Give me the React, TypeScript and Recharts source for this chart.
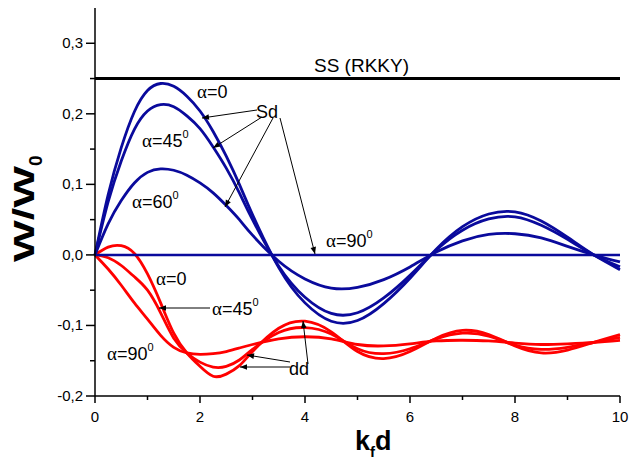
import { LineChart, Line, XAxis, YAxis, ReferenceLine } from 'recharts'

// k_f d sampling (finer near the origin where the curves bend fastest)
const kfd = [0, 0.25, 0.5, 0.75, 1, 1.25, 1.5, 1.75, 2, 2.25, 2.5, 2.75, 3, 3.5, 4, 4.5, 5, 5.5, 6, 6.5, 7, 7.5, 8, 8.5, 9, 9.5, 10]

// Sd curves (blue)
const sdAlpha0 = [0, 0.085, 0.152, 0.203, 0.233, 0.243, 0.239, 0.225, 0.204, 0.175, 0.14, 0.1, 0.057, -0.018, -0.068, -0.094, -0.093, -0.069, -0.033, 0.008, 0.04, 0.058, 0.061, 0.048, 0.025, 0, -0.021]
const sdAlpha45 = [0, 0.075, 0.133, 0.178, 0.204, 0.213, 0.21, 0.197, 0.179, 0.153, 0.123, 0.088, 0.05, -0.016, -0.06, -0.083, -0.082, -0.061, -0.029, 0.007, 0.035, 0.051, 0.054, 0.042, 0.022, 0, -0.017]
const sdAlpha60 = [0, 0.044, 0.077, 0.102, 0.117, 0.122, 0.12, 0.113, 0.102, 0.088, 0.07, 0.05, 0.028, -0.009, -0.034, -0.047, -0.046, -0.035, -0.017, 0.004, 0.02, 0.029, 0.03, 0.024, 0.012, 0, -0.01]
const sdAlpha90 = [0, 0, 0, 0, 0, 0, 0, 0, 0, 0, 0, 0, 0, 0, 0, 0, 0, 0, 0, 0, 0, 0, 0, 0, 0, 0, 0]

// dd curves (red)
const ddAlpha0 = [0, 0.011, 0.013, 0.002, -0.027, -0.068, -0.111, -0.139, -0.158, -0.172, -0.169, -0.157, -0.137, -0.104, -0.094, -0.109, -0.137, -0.147, -0.137, -0.118, -0.107, -0.113, -0.129, -0.139, -0.135, -0.124, -0.113]
const ddAlpha45 = [0, -0.004, -0.015, -0.031, -0.05, -0.082, -0.118, -0.139, -0.152, -0.159, -0.158, -0.149, -0.134, -0.11, -0.103, -0.112, -0.133, -0.14, -0.133, -0.119, -0.111, -0.115, -0.128, -0.134, -0.131, -0.124, -0.117]
const ddAlpha90 = [0, -0.02, -0.043, -0.068, -0.091, -0.114, -0.131, -0.139, -0.141, -0.14, -0.137, -0.132, -0.127, -0.119, -0.116, -0.119, -0.127, -0.129, -0.126, -0.122, -0.121, -0.122, -0.125, -0.127, -0.126, -0.124, -0.121]

// SS (RKKY) level
const ssLevel = 0.25

const xTicks = [0, 1, 2, 3, 4, 5, 6, 7, 8, 9, 10]
const yTicks = [-0.2, -0.15, -0.1, -0.05, 0, 0.05, 0.1, 0.15, 0.2, 0.25, 0.3]
const rightTicks = [-0.15, -0.1, -0.05, 0, 0.05, 0.1, 0.15, 0.2, 0.25, 0.3]

const data = kfd.map((x, i) => ({
  x,
  sd0: sdAlpha0[i],
  sd45: sdAlpha45[i],
  sd60: sdAlpha60[i],
  sd90: sdAlpha90[i],
  dd0: ddAlpha0[i],
  dd45: ddAlpha45[i],
  dd90: ddAlpha90[i],
}))

const font = '"Liberation Sans", Arial, sans-serif'
const greek = '"Liberation Serif", "DejaVu Serif", serif'
const blue = '#0a0a9c'
const red = '#ff0000'

const fmt = (v: number) => v.toFixed(1).replace('.', ',')
const isMajorY = (v: number) => Math.abs(v * 10 - Math.round(v * 10)) < 1e-6

function LeftTick({ x, y, payload }: any) {
  const major = isMajorY(payload.value)
  return (
    <g>
      <line x1={x} x2={x - (major ? 9 : 5)} y1={y} y2={y} stroke="#000" strokeWidth={1.5} />
      {major && (
        <text x={x - 12} y={y} dy={5} textAnchor="end" fontSize={15} fontFamily={font} fill="#000">
          {fmt(payload.value)}
        </text>
      )}
    </g>
  )
}

function BottomTick({ x, y, payload }: any) {
  const major = payload.value % 2 === 0
  return (
    <g>
      <line x1={x} x2={x} y1={y} y2={y + (major ? 7 : 4)} stroke="#000" strokeWidth={1.5} />
      {major && (
        <text x={x} y={y + 26} textAnchor="middle" fontSize={15} fontFamily={font} fill="#000">
          {payload.value}
        </text>
      )}
    </g>
  )
}

function TopTick({ x, y }: any) {
  return <line x1={x} x2={x} y1={y} y2={y + 7} stroke="#000" strokeWidth={1.5} />
}

function RightTick({ x, y }: any) {
  return <line x1={x} x2={x - 8} y1={y} y2={y} stroke="#000" strokeWidth={1.5} />
}

function Alpha({ x, y, deg, sup }: { x: number; y: number; deg: string; sup?: boolean }) {
  return (
    <text x={x} y={y} fontSize={18} fontFamily={font} fill="#000">
      <tspan fontFamily={greek} fontSize={19}>α</tspan>
      <tspan>={deg}</tspan>
      {sup && <tspan dy={-9} fontSize={11}>0</tspan>}
    </text>
  )
}

function Arrow({ x1, y1, x2, y2 }: { x1: number; y1: number; x2: number; y2: number }) {
  return <line x1={x1} y1={y1} x2={x2} y2={y2} stroke="#000" strokeWidth={1} markerEnd="url(#head)" />
}

export default function App() {
  return (
    <div style={{ position: 'absolute', left: 0, top: 0, width: 634, height: 460, background: '#fff' }}>
      <LineChart width={634} height={460} data={data} margin={{ top: 8, right: 14, bottom: 0, left: 0 }}>
        <XAxis
          dataKey="x"
          type="number"
          domain={[0, 10]}
          ticks={xTicks}
          interval={0}
          height={64}
          tickSize={0}
          tickMargin={0}
          axisLine={{ stroke: '#000', strokeWidth: 1.5 }}
          tick={<BottomTick />}
        />
        <XAxis
          xAxisId="top"
          dataKey="x"
          orientation="top"
          type="number"
          domain={[0, 10]}
          ticks={xTicks}
          interval={0}
          height={0}
          tickSize={0}
          tickMargin={0}
          axisLine={{ stroke: '#000', strokeWidth: 1.5 }}
          tick={<TopTick />}
        />
        <YAxis
          type="number"
          domain={[-0.2, 0.35]}
          ticks={yTicks}
          interval={0}
          width={95}
          tickSize={0}
          tickMargin={0}
          allowDataOverflow
          axisLine={{ stroke: '#000', strokeWidth: 1.5 }}
          tick={<LeftTick />}
        />
        <YAxis
          yAxisId="right"
          orientation="right"
          type="number"
          domain={[-0.2, 0.35]}
          ticks={rightTicks}
          interval={0}
          width={0}
          tickSize={0}
          tickMargin={0}
          allowDataOverflow
          axisLine={{ stroke: '#000', strokeWidth: 1.5 }}
          tick={<RightTick />}
        />
        <Line dataKey="dd90" type="natural" stroke={red} strokeWidth={2.8} dot={false} isAnimationActive={false} />
        <Line dataKey="dd45" type="natural" stroke={red} strokeWidth={2.8} dot={false} isAnimationActive={false} />
        <Line dataKey="dd0" type="natural" stroke={red} strokeWidth={2.8} dot={false} isAnimationActive={false} />
        <Line dataKey="sd60" type="natural" stroke={blue} strokeWidth={2.8} dot={false} isAnimationActive={false} />
        <Line dataKey="sd45" type="natural" stroke={blue} strokeWidth={2.8} dot={false} isAnimationActive={false} />
        <Line dataKey="sd0" type="natural" stroke={blue} strokeWidth={2.8} dot={false} isAnimationActive={false} />
        <Line dataKey="sd90" type="linear" stroke={blue} strokeWidth={2.5} dot={false} isAnimationActive={false} />
        <ReferenceLine y={ssLevel} stroke="#000" strokeWidth={3} />
      </LineChart>

      <svg width={634} height={460} style={{ position: 'absolute', left: 0, top: 0, pointerEvents: 'none' }}>
        <defs>
          <marker id="head" viewBox="0 0 10 10" refX="10" refY="5" markerWidth="9" markerHeight="7" orient="auto" markerUnits="userSpaceOnUse">
            <path d="M0,1 L10,5 L0,9 z" fill="#000" />
          </marker>
        </defs>

        {/* axis titles */}
        <text transform="translate(34,262) rotate(-90)" fontSize={30} fontWeight="bold" fontFamily={font} fill="#000">
          <tspan textLength={96} lengthAdjust="spacingAndGlyphs">W/W</tspan>
          <tspan dy={8} fontSize={19}>0</tspan>
        </text>
        <text x={355} y={450} fontSize={27} fontWeight="bold" fontFamily={font} fill="#000">
          k<tspan dy={7} fontSize={15}>f</tspan>
          <tspan dy={-7}>d</tspan>
        </text>

        {/* SS line label */}
        <text x={314} y={72} fontSize={19} fontFamily={font} fill="#000">SS (RKKY)</text>

        {/* Sd labels */}
        <Alpha x={197} y={98} deg="0" />
        <Alpha x={142} y={147} deg="45" sup />
        <Alpha x={132} y={208} deg="60" sup />
        <Alpha x={326} y={247} deg="90" sup />
        <text x={256} y={118} fontSize={18} fontFamily={font} fill="#000">Sd</text>
        <Arrow x1={257} y1={110} x2={202} y2={118} />
        <Arrow x1={262} y1={117} x2={213} y2={148} />
        <Arrow x1={273} y1={118} x2={225} y2={207} />
        <Arrow x1={280} y1={118} x2={315} y2={254} />

        {/* dd labels */}
        <Alpha x={156} y={285} deg="0" />
        <Alpha x={212} y={315} deg="45" sup />
        <Alpha x={107} y={360} deg="90" sup />
        <Arrow x1={210} y1={308} x2={159} y2={308} />
        <text x={289} y={375} fontSize={18} fontFamily={font} fill="#000">dd</text>
        <Arrow x1={290} y1={362} x2={247} y2={355} />
        <Arrow x1={290} y1={367} x2={240} y2={367} />
        <Arrow x1={308} y1={364} x2={303} y2={321} />
      </svg>
    </div>
  )
}
